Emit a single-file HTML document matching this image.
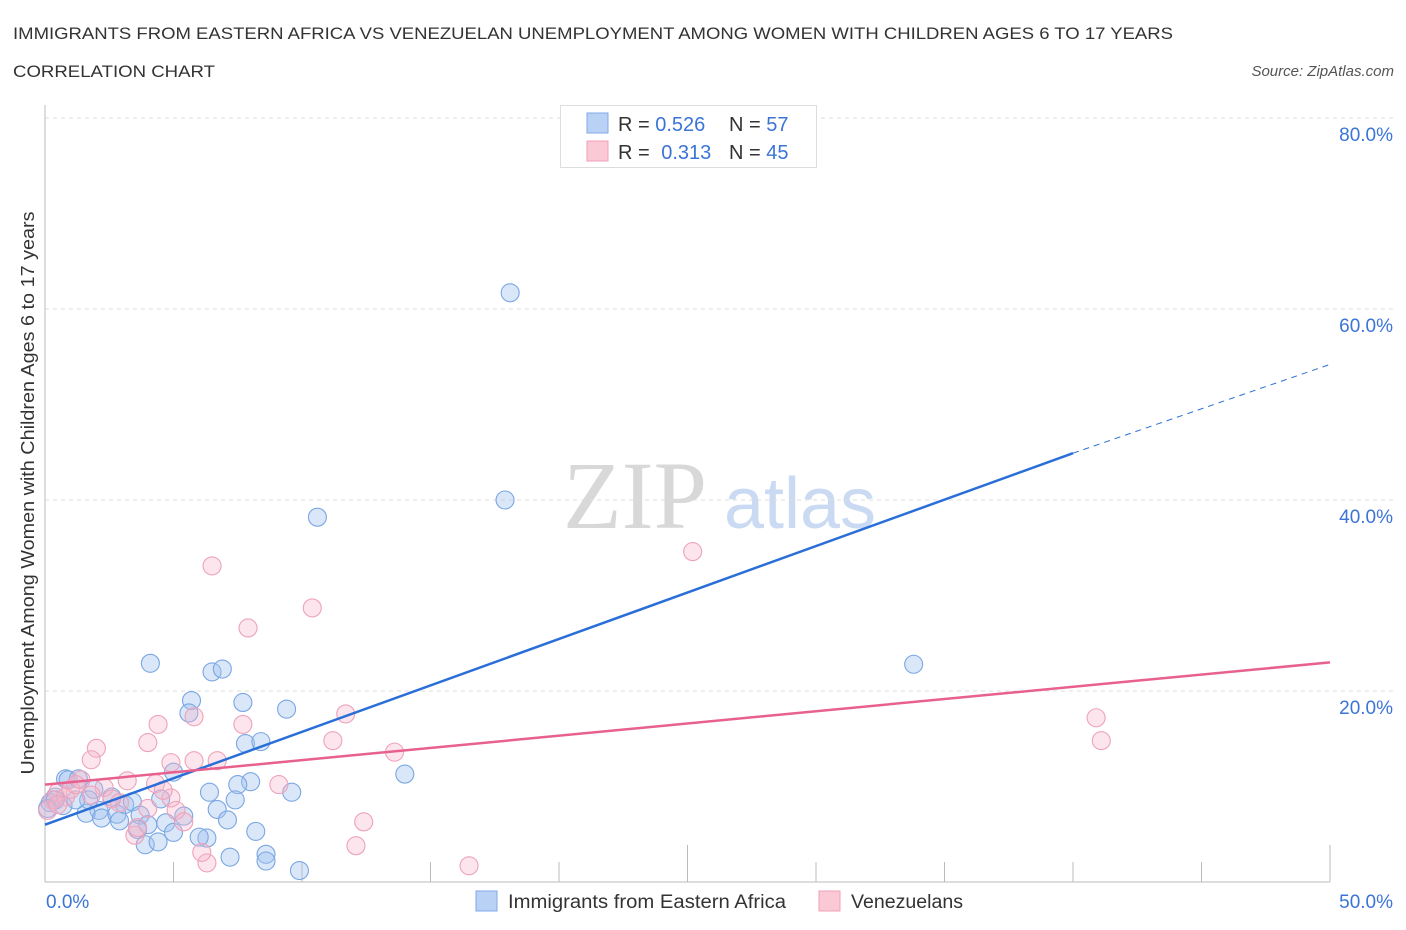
<!DOCTYPE html>
<html><head><meta charset="utf-8"><style>
body{margin:0;background:#fff;font-family:"Liberation Sans",sans-serif}
svg{display:block}
</style></head><body>
<svg id="chart" width="1406" height="930" xmlns="http://www.w3.org/2000/svg">
<text x="13" y="39" font-size="17" fill="#333" textLength="1160" lengthAdjust="spacingAndGlyphs">IMMIGRANTS FROM EASTERN AFRICA VS VENEZUELAN UNEMPLOYMENT AMONG WOMEN WITH CHILDREN AGES 6 TO 17 YEARS</text>
<text x="13" y="77" font-size="17" fill="#333" textLength="202" lengthAdjust="spacingAndGlyphs">CORRELATION CHART</text>
<text x="1394" y="76" font-size="15" fill="#555" font-style="italic" text-anchor="end">Source: ZipAtlas.com</text>
<g>
<text x="635" y="528" font-size="96" fill="#d8d8d8" font-family="Liberation Serif,serif" text-anchor="middle">ZIP</text>
<text x="800" y="528" font-size="72" fill="#c9daf2" text-anchor="middle">atlas</text>
</g>
<g id="grid"></g>
<g id="axes"></g>
<g id="marks"></g>
<g id="lines"></g>
<text transform="translate(34,493) rotate(-90)" font-size="18" fill="#333" text-anchor="middle" textLength="563" lengthAdjust="spacingAndGlyphs">Unemployment Among Women with Children Ages 6 to 17 years</text>
<g>
<rect x="560.5" y="105.5" width="256" height="62" fill="#fff" stroke="#ddd"/>
<rect x="587" y="113" width="21" height="20" fill="#b9d1f5" stroke="#7fa9e8"/>
<rect x="587" y="141" width="21" height="20" fill="#fbc8d6" stroke="#f0a0b9"/>
<text x="618" y="131" font-size="20" fill="#333">R = <tspan fill="#3b74d6">0.526</tspan></text>
<text x="729" y="131" font-size="20" fill="#333">N = <tspan fill="#3b74d6">57</tspan></text>
<text x="618" y="159" font-size="20" fill="#333">R = <tspan fill="#3b74d6" dx="6">0.313</tspan></text>
<text x="729" y="159" font-size="20" fill="#333">N = <tspan fill="#3b74d6">45</tspan></text>
</g>
<g>
<rect x="476" y="891" width="21" height="20" fill="#b9d1f5" stroke="#7fa9e8"/>
<text x="508" y="908" font-size="19" fill="#333" textLength="278" lengthAdjust="spacingAndGlyphs">Immigrants from Eastern Africa</text>
<rect x="819" y="891" width="21" height="20" fill="#fbc8d6" stroke="#f0a0b9"/>
<text x="851" y="908" font-size="19" fill="#333" textLength="112" lengthAdjust="spacingAndGlyphs">Venezuelans</text>
</g>
</svg>
<script>
const yTicks=[20,40,60,80];
const yTickLabels=["20.0%","40.0%","60.0%","80.0%"];
const xTickLabels=["0.0%","50.0%"];
const blueX=[18.1,17.9,10.6,4.1,33.8,6.5,6.9,5.7,7.7,5.6,9.4,7.8,8.4,14.0,5.0,0.8,6.4,9.6,8.0,7.5,7.4,4.5,6.7,7.1,5.4,4.7,2.1,0.9,1.3,1.9,0.4,0.2,0.7,0.1,1.6,2.2,3.1,3.4,2.8,3.7,4.0,2.9,3.6,5.0,6.3,8.2,6.0,3.9,4.4,7.2,8.6,8.6,9.9,1.7,2.6,1.2,0.4];
const blueY=[61.7,40.0,38.2,22.9,22.8,22.0,22.3,19.0,18.8,17.7,18.1,14.5,14.7,11.3,11.5,10.8,9.4,9.4,10.5,10.2,8.6,8.7,7.6,6.5,6.9,6.2,7.5,10.7,10.8,9.7,8.9,8.3,8.0,7.7,7.2,6.7,8.1,8.4,7.1,7.0,6.0,6.4,5.5,5.2,4.6,5.3,4.7,3.9,4.2,2.6,2.9,2.2,1.2,8.6,8.9,8.6,8.6];
const pinkX=[25.2,6.5,10.4,7.9,40.9,41.1,4.4,5.8,7.7,11.7,11.2,13.6,2.0,1.8,4.0,4.9,5.8,6.7,3.2,4.3,2.3,1.4,9.1,4.9,4.0,5.1,5.4,12.4,12.1,16.5,6.3,6.1,3.5,3.6,0.5,0.3,0.8,1.0,2.6,2.9,0.1,0.5,1.8,1.2,4.6];
const pinkY=[34.6,33.1,28.7,26.6,17.2,14.8,16.5,17.3,16.5,17.6,14.8,13.6,14.0,12.8,14.6,12.5,12.7,12.7,10.6,10.3,9.9,10.7,10.2,8.8,7.7,7.5,6.3,6.3,3.8,1.7,2.0,3.1,4.9,5.7,9.4,8.6,8.9,9.7,8.7,8.3,7.5,8.1,9.1,10.2,9.6];
const blueTrend=[6.0,44.9,54.2];
const pinkTrend=[10.2,23.0];
const NS="http://www.w3.org/2000/svg";
const X0=45,X1=1330,Y0=882,Y1=118;
const xs=v=>X0+(X1-X0)*v/50;
const ys=v=>Y0-(Y0-Y1)*v/80;
function mk(tag,attrs,parent){const e=document.createElementNS(NS,tag);for(const k in attrs)e.setAttribute(k,attrs[k]);parent.appendChild(e);return e;}
const grid=document.getElementById('grid'),axes=document.getElementById('axes'),marks=document.getElementById('marks'),lines=document.getElementById('lines');
yTicks.forEach((t,i)=>{
 const l=mk('line',{x1:X0,x2:1394,y1:ys(t),y2:ys(t),stroke:'#ddd','stroke-dasharray':'4,4'},grid);
 
 
 const tx=mk('text',{x:1393,y:ys(t)+23,'font-size':19,fill:'#3b74d6','text-anchor':'end'},axes);
 tx.textContent=yTickLabels[i];
 
 
});
const ax=mk('line',{x1:X0,x2:X0,y1:105,y2:Y0,stroke:'#bbb'},axes);


const bx=mk('line',{x1:X0,x2:X1,y1:Y0,y2:Y0,stroke:'#bbb'},axes);


for(let i=0;i<=10;i++){
 const v=i*5;const tall=(i==5||i==10);
 const t=mk('line',{x1:xs(v),x2:xs(v),y1:tall?845:862,y2:Y0,stroke:'#bbb'},axes);
 
 
}
[[0,'start',46],[50,'end',1393]].forEach((d,i)=>{
 const tx=mk('text',{x:d[2],y:908,'font-size':19,fill:'#3b74d6','text-anchor':d[1]},axes);
 tx.textContent=xTickLabels[i];
 
 
});
blueX.forEach((v,i)=>{
 const c=mk('circle',{cx:xs(v),cy:ys(blueY[i]),r:9,fill:'rgba(160,195,240,0.4)',stroke:'#7aa6e3','stroke-width':1.1},marks);
 
 
});
pinkX.forEach((v,i)=>{
 const c=mk('circle',{cx:xs(v),cy:ys(pinkY[i]),r:9,fill:'rgba(246,180,200,0.35)',stroke:'#eea2bb','stroke-width':1.1},marks);
 
 
});
const bl=mk('line',{x1:xs(0),y1:ys(blueTrend[0]),x2:xs(40),y2:ys(blueTrend[1]),stroke:'#2a6fd8','stroke-width':2.5},lines);


const bd=mk('line',{x1:xs(40),y1:ys(blueTrend[1]),x2:xs(50),y2:ys(blueTrend[2]),stroke:'#2a6fd8','stroke-width':1,'stroke-dasharray':'6,5'},lines);


const pl=mk('line',{x1:xs(0),y1:ys(pinkTrend[0]),x2:xs(50),y2:ys(pinkTrend[1]),stroke:'#e8608e','stroke-width':2.5},lines);


</script>
</body></html>
